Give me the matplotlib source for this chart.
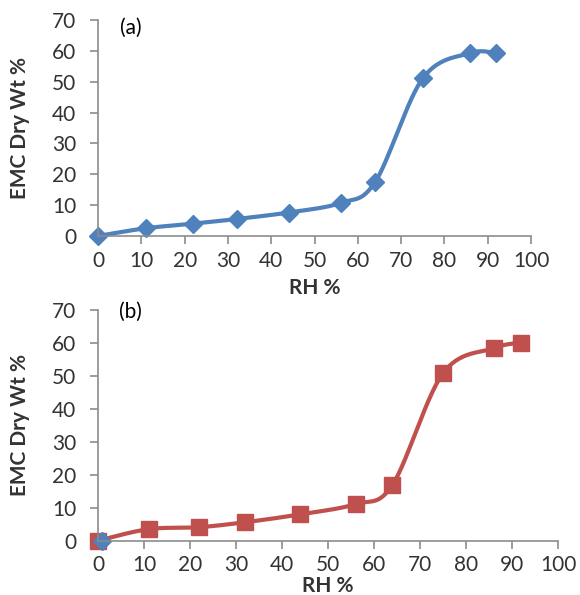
import numpy as np
import matplotlib
matplotlib.use("Agg")
import matplotlib.pyplot as plt

# Datos
rh_a = [0, 11, 22, 32, 44, 56, 64, 75, 86, 92]
emc_a = [0, 2.5, 4.0, 5.5, 7.6, 10.7, 17.5, 51.1, 59.3, 59.2]

rh_b = [0, 11, 22, 32, 44, 56, 64, 75, 86, 92]
emc_b = [0, 3.5, 4.1, 5.6, 8.0, 11.1, 16.9, 50.8, 58.4, 60.1]

# punto suelto (rombo azul) en el panel b
rh_extra = [0.8]
emc_extra = [0]

xticks = list(range(0, 101, 10))
yticks = list(range(0, 71, 10))

AZUL = "#4F81BD"
ROJO = "#C0504D"
GRIS = "#8C8C8C"
TEXTO = "#333333"

plt.rcParams["font.family"] = ["Lato", "DejaVu Sans"]


def suavizar(x, y, sx=1.0, sy=1.0, n=30):
    """Curva tipo Excel (Catmull-Rom) a través de los puntos."""
    p = np.column_stack([np.asarray(x, float) * sx, np.asarray(y, float) * sy])
    p = np.vstack([p[0], p, p[-1]])
    out = []
    t = np.linspace(0, 1, n)[:, None]
    for i in range(1, len(p) - 2):
        p0, p1, p2, p3 = p[i - 1], p[i], p[i + 1], p[i + 2]
        c1 = p1 + (p2 - p0) / 6
        c2 = p2 - (p3 - p1) / 6
        seg = ((1 - t) ** 3) * p1 + 3 * ((1 - t) ** 2) * t * c1 + 3 * (1 - t) * t ** 2 * c2 + t ** 3 * p2
        out.append(seg)
    out = np.vstack(out)
    return out[:, 0] / sx, out[:, 1] / sy


def estilo(ax, ylab_x, xlab_y):
    ax.set_xlim(0, 100)
    ax.set_ylim(0, 70)
    ax.set_xticks(xticks)
    ax.set_yticks(yticks)
    for s in ("top", "right"):
        ax.spines[s].set_visible(False)
    for s in ("left", "bottom"):
        ax.spines[s].set_color(GRIS)
        ax.spines[s].set_linewidth(1.2)
    ax.tick_params(length=5.5, width=1.2, color=GRIS, labelsize=15, labelcolor=TEXTO)
    ax.tick_params(axis="y", pad=10)
    ax.tick_params(axis="x", pad=5)
    ax.set_xlabel("RH %", fontsize=15, fontweight="bold", color=TEXTO)
    ax.set_ylabel("EMC Dry Wt %", fontsize=15, fontweight="bold", color=TEXTO)
    ax.yaxis.set_label_coords(ylab_x, 0.5)
    ax.xaxis.set_label_coords(0.5, xlab_y)
    ax.xaxis.label.set_va("center")
    ax.yaxis.label.set_va("center")


fig = plt.figure(figsize=(5.8, 5.95), dpi=100)

ax1 = fig.add_axes([0.169, 0.6034, 0.7466, 0.363])
xs, ys = suavizar(rh_a, emc_a, 433 / 100, 216 / 70)
ax1.plot(xs, ys, color=AZUL, lw=3, solid_capstyle="round", clip_on=False)
ax1.plot(rh_a, emc_a, ls="none", marker="D", ms=9, color=AZUL, clip_on=False)
estilo(ax1, -0.18, -0.24)
ax1.text(0.075, 0.963, "(a)", transform=ax1.transAxes, fontsize=15, color="black",
         ha="center", va="center")

ax2 = fig.add_axes([0.169, 0.0913, 0.793, 0.3877])
xs, ys = suavizar(rh_b, emc_b, 460 / 100, 231 / 70)
ax2.plot(xs, ys, color=ROJO, lw=3, solid_capstyle="round", clip_on=False)
ax2.plot(rh_b, emc_b, ls="none", marker="s", ms=12, color=ROJO, clip_on=False)
ax2.plot(rh_extra, emc_extra, ls="none", marker="D", ms=9, color=AZUL, clip_on=False)
estilo(ax2, -0.17, -0.195)
ax2.text(0.0707, 0.991, "(b)", transform=ax2.transAxes, fontsize=15, color="black",
         ha="center", va="center")

fig.savefig("out.png", dpi=100)
